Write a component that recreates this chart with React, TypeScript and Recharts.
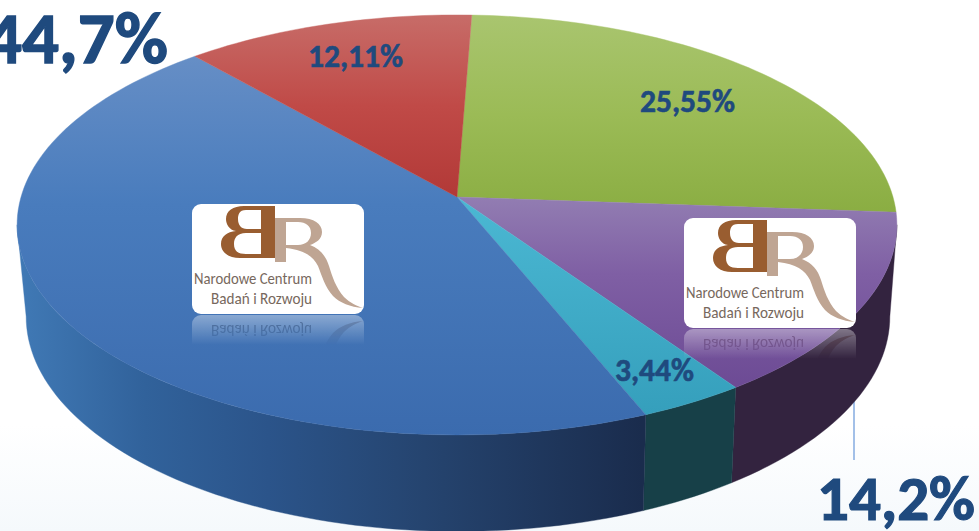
import React from "react";
import { PieChart, Pie } from "recharts";

const categories = ["B", "C", "D", "E", "A"];
const shares = [25.55, 14.2, 3.44, 44.7, 12.11];
const labelTexts = ["25,55%", "14,2%", "3,44%", "44,7%", "12,11%"];

const rows = categories.map((name, i) => ({ name, value: shares[i], text: labelTexts[i] }));

const W = 979;
const H = 531;
const CX = 457;
const CY = 197;
const K = -0.133;
const FIRST_ANGLE = 87.8;

const top = { x0: 457, y0: 197, a: 206.3, b: 436 };
const low = { x0: 458, y0: 288, a: 211, b: 428 };

// recharts angle (degrees, ccw from 3 o'clock) -> tilted disc
function project(angle: number, g: typeof top) {
  const r = (angle * Math.PI) / 180;
  const u = Math.cos(r);
  const v = -Math.sin(r);
  const d = 1 + K * v;
  return [g.x0 + (g.b * u) / d, g.y0 + (g.a * v) / d];
}

function arcPoints(from: number, to: number, g: typeof top) {
  const n = Math.max(2, Math.ceil(Math.abs(to - from) / 1.5));
  const out: number[][] = [];
  for (let i = 0; i <= n; i++) out.push(project(from + ((to - from) * i) / n, g));
  return out;
}
const toD = (pts: number[][]) => "M" + pts.map((p) => `${p[0].toFixed(2)},${p[1].toFixed(2)}`).join("L") + "Z";

const topFills = ["url(#gG)", "url(#gP)", "url(#gT)", "url(#gB)", "url(#gR)"];
const sideFills = ["none", "#33233f", "#174048", "url(#sB)", "none"];

function TopShape(props: any) {
  const { startAngle, endAngle, index } = props;
  const pts = [[top.x0, top.y0], ...arcPoints(startAngle, endAngle, top)];
  return <path d={toD(pts)} fill={topFills[index % 5]} stroke={topFills[index % 5]} strokeWidth={0.4} />;
}

function SideShape(props: any) {
  const { startAngle, endAngle, index } = props;
  // the near half of the rim only
  const hiA = -7.6;
  const loA = -172.4;
  const a0 = Math.min(startAngle, hiA);
  const a1 = Math.max(endAngle, loA);
  if (a0 <= a1) return <g />;
  const upper = arcPoints(a0, a1, top);
  const lower = arcPoints(a1, a0, low);
  return <path d={toD([...upper, ...lower])} fill={sideFills[index % 5]} stroke={sideFills[index % 5]} strokeWidth={0.4} />;
}

const labelSpots = [
  { x: 735, y: 112, size: 31.5, bold: 0.6 },
  { x: 975, y: 520, size: 63, bold: 1.2 },
  { x: 694, y: 381, size: 31.5, bold: 0.6 },
  { x: 168, y: 63, size: 73, bold: 1.4 },
  { x: 403, y: 67, size: 31.5, bold: 0.6 },
];

function renderLabel(props: any) {
  const spot = labelSpots[props.index];
  return (
    <text
      x={spot.x}
      y={spot.y}
      textAnchor="end"
      fontFamily="Carlito, Lato, sans-serif"
      fontWeight={900}
      fontSize={spot.size}
      fill="#1f4a7e"
      stroke="#1f4a7e"
      strokeWidth={spot.bold}
    >
      {labelTexts[props.index]}
    </text>
  );
}

function LogoArt() {
  return (
    <>
      <path
        fill="#bfa593"
        d="M83,14 L108,14 C122,14 130,20 130,28 C130,35 124,39 118,41 C128,45 134,52 137,62 C140,72 144,84 152,93 C158,99 165,102 171,104 C158,103 148,99 141,92 C133,83 130,72 126,62 C121,52 112,46 94,44 L94,58 L83,58 Z M94,18 L94,41 L106,41 C114,41 119,36 119,29 C119,22 114,18 106,18 Z"
        fillRule="evenodd"
      />
      <path
        fillRule="evenodd"
        fill="#995d30"
        d="M83,2 L83,54 L48,54 C36,54 29,48 29,40 C29,32 35,28 44,27 C37,26 34,20 34,15 C34,7 41,2 52,2 Z M69,6 L54,6 C47,6 46,11 46,15 C46,21 49,25 55,25 L69,25 Z M69,29 L54,29 C45,29 42,34 42,40 C42,47 46,50 54,50 L69,50 Z"
      />
    </>
  );
}

function LogoText() {
  return (
    <>
      <text x={2} y={80} fontFamily="Carlito, Lato, sans-serif" fontSize={16} fill="#77685d" textLength={118} lengthAdjust="spacingAndGlyphs">
        Narodowe Centrum
      </text>
      <text x={19} y={100} fontFamily="Carlito, Lato, sans-serif" fontSize={16} fill="#77685d" textLength={101} lengthAdjust="spacingAndGlyphs">
        Badań i Rozwoju
      </text>
    </>
  );
}

function Logo({ x, y }: { x: number; y: number }) {
  return (
    <g transform={`translate(${x},${y})`}>
      <g mask="url(#mk1)">
        <g transform="translate(0,221) scale(1,-1)">
          <rect x={0} y={0} width={172} height={110} rx={9} fill="#ffffff" />
          <LogoText />
          <LogoArt />
        </g>
      </g>
      <rect x={0} y={0} width={172} height={110} rx={9} fill="#ffffff" />
      <LogoArt />
      <LogoText />
    </g>
  );
}

export default function App() {
  return (
    <div
      style={{
        position: "absolute",
        left: 0,
        top: 0,
        width: W,
        height: H,
        overflow: "hidden",
        background: "linear-gradient(to bottom, #ffffff 0%, #ffffff 80%, #f5f9fc 100%)",
      }}
    >
      <PieChart width={W} height={H} margin={{ top: 0, right: 0, bottom: 0, left: 0 }}>
        <defs>
          <linearGradient id="gB" gradientUnits="userSpaceOnUse" x1="0" y1="15" x2="0" y2="435">
            <stop offset="0" stopColor="#7097cb" />
            <stop offset="0.12" stopColor="#648dc5" />
            <stop offset="0.45" stopColor="#497cbd" />
            <stop offset="1" stopColor="#3b6bae" />
          </linearGradient>
          <linearGradient id="gR" gradientUnits="userSpaceOnUse" x1="0" y1="15" x2="0" y2="197">
            <stop offset="0" stopColor="#c76c68" />
            <stop offset="0.5" stopColor="#c04a47" />
            <stop offset="1" stopColor="#b23937" />
          </linearGradient>
          <linearGradient id="gG" gradientUnits="userSpaceOnUse" x1="0" y1="15" x2="0" y2="215">
            <stop offset="0" stopColor="#a9c56f" />
            <stop offset="0.5" stopColor="#9bbb56" />
            <stop offset="1" stopColor="#8aad42" />
          </linearGradient>
          <linearGradient id="gP" gradientUnits="userSpaceOnUse" x1="0" y1="197" x2="0" y2="390">
            <stop offset="0" stopColor="#927db2" />
            <stop offset="0.4" stopColor="#7f5fa4" />
            <stop offset="1" stopColor="#6c4a94" />
          </linearGradient>
          <linearGradient id="gT" gradientUnits="userSpaceOnUse" x1="0" y1="197" x2="0" y2="415">
            <stop offset="0" stopColor="#4bb8d3" />
            <stop offset="1" stopColor="#359fbc" />
          </linearGradient>
          <linearGradient id="sB" gradientUnits="userSpaceOnUse" x1="20" y1="0" x2="642" y2="0">
            <stop offset="0" stopColor="#4079b5" />
            <stop offset="0.2" stopColor="#31629b" />
            <stop offset="0.4" stopColor="#2b548a" />
            <stop offset="0.65" stopColor="#25446f" />
            <stop offset="1" stopColor="#1a2c4d" />
          </linearGradient>
        </defs>
        <line x1={854} y1={395} x2={854} y2={460} stroke="#a3c0e8" strokeWidth={2} />
        <Pie
          data={rows}
          dataKey="value"
          nameKey="name"
          cx={CX}
          cy={CY}
          outerRadius={200}
          startAngle={FIRST_ANGLE}
          endAngle={FIRST_ANGLE - 360}
          stroke="none"
          isAnimationActive={false}
          shape={SideShape}
          label={false}
          labelLine={false}
        />
        <Pie
          data={rows}
          dataKey="value"
          nameKey="name"
          cx={CX}
          cy={CY}
          outerRadius={200}
          startAngle={FIRST_ANGLE}
          endAngle={FIRST_ANGLE - 360}
          stroke="none"
          isAnimationActive={false}
          shape={TopShape}
          label={renderLabel}
          labelLine={false}
        />
      </PieChart>
      <svg width={W} height={H} style={{ position: "absolute", left: 0, top: 0, pointerEvents: "none" }}>
        <defs>
          <linearGradient id="fade" x1="0" y1="0" x2="0" y2="1">
            <stop offset="0" stopColor="#ffffff" stopOpacity="0.38" />
            <stop offset="1" stopColor="#ffffff" stopOpacity="0" />
          </linearGradient>
          <mask id="mk1" maskUnits="userSpaceOnUse" x="0" y="110" width="172" height="32">
            <rect x="0" y="111" width="172" height="30" fill="url(#fade)" />
          </mask>
        </defs>
        <Logo x={192} y={204} />
        <Logo x={684} y={218} />
      </svg>
    </div>
  );
}
